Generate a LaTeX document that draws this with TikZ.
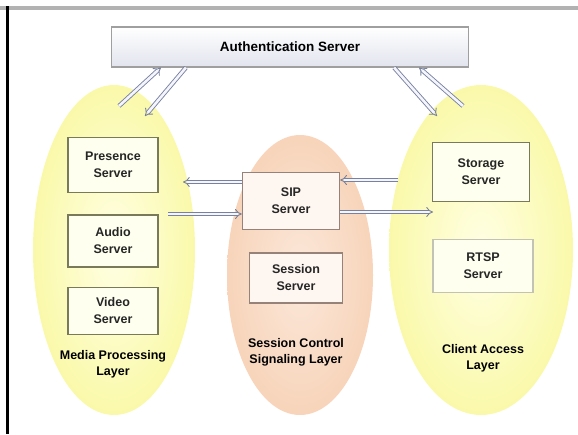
\documentclass[tikz,border=0pt]{standalone}
\usepackage{fontspec}
\setmainfont{Liberation Sans}
\usetikzlibrary{arrows.meta,shapes.geometric}
\definecolor{ylw}{RGB}{250,249,170}
\definecolor{ylwin}{RGB}{255,255,228}
\definecolor{pch}{RGB}{247,212,186}
\definecolor{pchin}{RGB}{252,232,218}
\definecolor{boxol}{RGB}{120,122,90}
\definecolor{boxpk}{RGB}{150,130,120}
\definecolor{arr}{RGB}{120,130,158}
\definecolor{topfill}{RGB}{226,228,238}
\begin{document}
\begin{tikzpicture}[x=1pt,y=-1pt,
  tier/.style={ellipse, draw=none, shading=radial},
  serverbox/.style={draw=boxol, line width=1.4pt, fill=ylwin!60!white,
    minimum width=90pt, minimum height=52pt, align=center,
    font=\fontsize{12.5}{17}\selectfont\bfseries, text=black!85},
  tierlabel/.style={align=center, font=\fontsize{12.5}{16}\selectfont\bfseries},
  harrow/.style={draw=arr, double=blue!4, double distance=2.6pt, line width=0.9pt, -{Implies}}]
\useasboundingbox (0,0) rectangle (578,434);
% frame lines
\draw[gray!60, line width=4pt] (0,8) -- (578,8);
\draw[black, line width=3pt] (7,6) -- (7,434);
% tiers
\node[tier, inner color=ylwin, outer color=ylw, minimum width=162pt, minimum height=330pt] (lell) at (114,250) {};
\node[tier, inner color=pchin, outer color=pch, minimum width=146pt, minimum height=280pt] (mell) at (300,275) {};
\node[tier, inner color=ylwin, outer color=ylw, minimum width=184pt, minimum height=330pt] (rell) at (481,250) {};
% top server
\node[draw=gray!75, line width=1.2pt, top color=white, bottom color=topfill,
  minimum width=357pt, minimum height=40pt,
  font=\fontsize{13.5}{16}\selectfont\bfseries] (top) at (290,47) {Authentication Server};
% left boxes
\node[serverbox, minimum height=55pt] (pres) at (113,165) {Presence\\Server};
\node[serverbox] (audio) at (113,241) {Audio\\Server};
\node[serverbox, minimum height=47pt] (video) at (113,311) {Video\\Server};
\node[tierlabel] (llab) at (113,364) {Media Processing\\Layer};
% middle boxes
\node[serverbox, draw=boxpk, fill=pchin!40!white, minimum width=97pt, minimum height=57pt] (sip) at (291,201) {SIP\\Server};
\node[serverbox, draw=boxpk, fill=pchin!40!white, minimum width=93pt, minimum height=50pt] (sess) at (296,278) {Session\\Server};
\node[tierlabel] (mlab) at (296,352) {Session Control\\Signaling Layer};
% right boxes
\node[serverbox, minimum width=97pt, minimum height=59pt] (stor) at (481,172) {Storage\\Server};
\node[serverbox, draw=boxol!45, minimum width=100pt, minimum height=53pt] (rtsp) at (483,266) {RTSP\\Server};
\node[tierlabel] (rlab) at (483,358) {Client Access\\Layer};
% free ends
\coordinate (lu) at (183,182);
\coordinate (ll) at (168,214);
\coordinate (ru) at (398,180);
\coordinate (rl) at (433,212);
\coordinate (tld) at (145,116);
\coordinate (tlu) at (119,106);
\coordinate (trd) at (437,116);
\coordinate (tru) at (463,106);
% connectors
\draw[harrow] (sip.west |- lu) -- (lu);
\draw[harrow] (ll) -- (sip.west |- ll);
\draw[harrow] (ru) -- (sip.east |- ru);
\draw[harrow] (sip.east |- rl) -- (rl);
\draw[harrow] ([xshift=75pt]top.south west) -- (tld);
\draw[harrow] (tlu) -- ([xshift=50pt]top.south west);
\draw[harrow] ([xshift=-75pt]top.south east) -- (trd);
\draw[harrow] (tru) -- ([xshift=-50pt]top.south east);
\end{tikzpicture}
\end{document}
